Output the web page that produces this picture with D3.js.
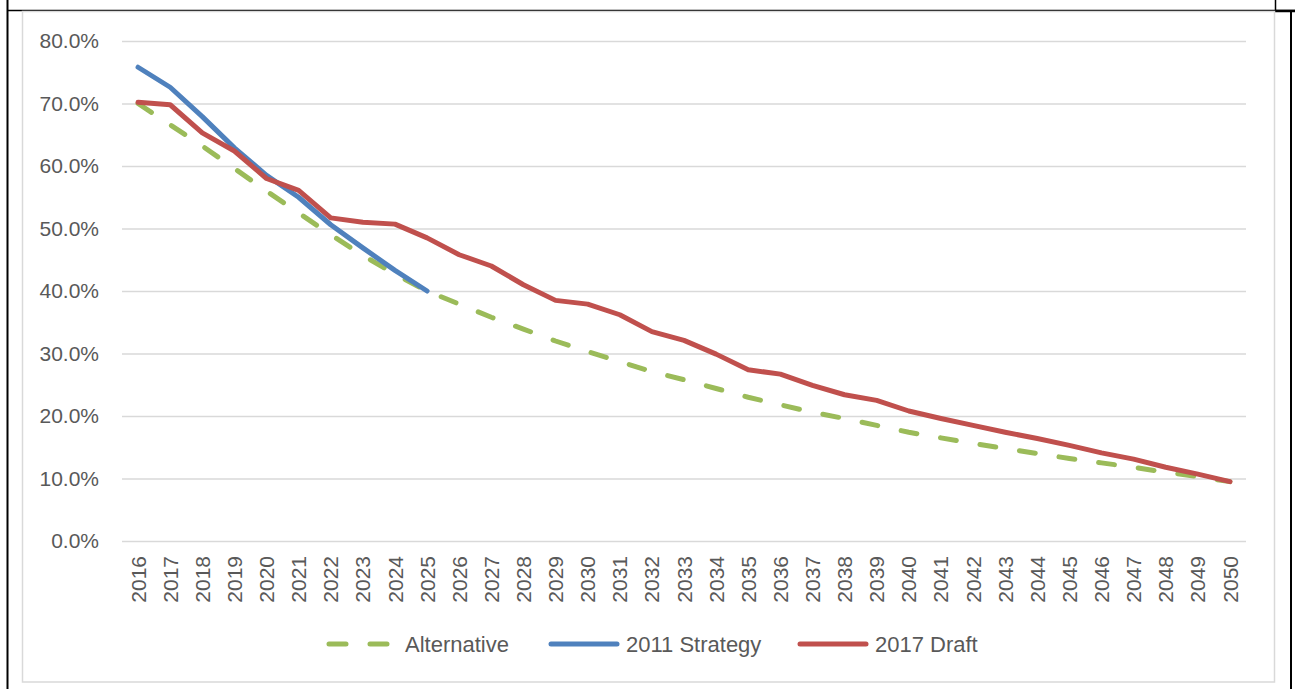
<!DOCTYPE html>
<html>
<head>
<meta charset="utf-8">
<script src="https://cdn.jsdelivr.net/npm/d3@7"></script>
<style>
  body { margin: 0; background: #fff; }
  svg { display: block; font-family: "Liberation Sans", Arial, sans-serif; }
</style>
</head>
<body>
<div id="main-chart"></div>
<script>
// Data
var years = [2016, 2017, 2018, 2019, 2020, 2021, 2022, 2023, 2024, 2025,
             2026, 2027, 2028, 2029, 2030, 2031, 2032, 2033, 2034, 2035,
             2036, 2037, 2038, 2039, 2040, 2041, 2042, 2043, 2044, 2045,
             2046, 2047, 2048, 2049, 2050];
var alternative = [70.0, 66.6, 63.2, 59.6, 56.0, 52.5, 49.0, 45.7, 42.7, 40.0,
                   37.9, 35.8, 33.9, 32.0, 30.3, 28.7, 27.1, 25.8, 24.4, 23.0,
                   21.8, 20.6, 19.6, 18.5, 17.4, 16.5, 15.6, 14.8, 14.0, 13.2,
                   12.5, 11.8, 11.0, 10.3, 9.5];
var strategy2011 = [75.8, 72.6, 67.9, 62.9, 58.5, 55.0, 50.6, 46.9, 43.3, 40.0];
var draft2017 = [70.2, 69.8, 65.3, 62.4, 58.0, 56.1, 51.7, 51.0, 50.7, 48.5,
                 45.8, 44.0, 41.0, 38.5, 37.9, 36.2, 33.5, 32.1, 29.9, 27.4,
                 26.7, 24.9, 23.4, 22.5, 20.8, 19.6, 18.5, 17.4, 16.4, 15.3,
                 14.1, 13.1, 11.8, 10.7, 9.5];
var seriesNames = ['Alternative', '2011 Strategy', '2017 Draft'];
var yTicks = [0, 10, 20, 30, 40, 50, 60, 70, 80];

var colors = {'Alternative': '#9bbb59', '2011 Strategy': '#4f81bd', '2017 Draft': '#c0504d'};

var width = 1295, height = 689;
var margin = {top: 41, bottom: 148, left: 122, right: 50};

var svg = d3.select('#main-chart').append('svg')
    .attr('width', width)
    .attr('height', height);

// table cell frame around the chart
svg.append('line').attr('x1', 7.5).attr('x2', 7.5).attr('y1', 0).attr('y2', height)
    .attr('stroke', '#000').attr('stroke-width', 2);
svg.append('line').attr('x1', 7.5).attr('x2', width).attr('y1', 10.5).attr('y2', 10.5)
    .attr('stroke', '#000').attr('stroke-width', 1.5);
svg.append('line').attr('x1', 1275).attr('x2', width).attr('y1', 11).attr('y2', 11)
    .attr('stroke', '#000').attr('stroke-width', 2.5);
svg.append('line').attr('x1', 1275.5).attr('x2', 1275.5).attr('y1', 0).attr('y2', 11)
    .attr('stroke', '#000').attr('stroke-width', 1.5);
svg.append('line').attr('x1', 1291).attr('x2', 1291).attr('y1', 11).attr('y2', height)
    .attr('stroke', '#000').attr('stroke-width', 2);

// chart area border
svg.append('rect')
    .attr('x', 22.5).attr('y', 11.5)
    .attr('width', 1252).attr('height', 670.5)
    .attr('fill', 'none').attr('stroke', '#d9d9d9').attr('stroke-width', 1.5);

var plotRight = width - margin.right;
var plotBottom = height - margin.bottom;

var xScale = d3.scaleBand().domain(years).range([margin.left, plotRight + 1]);
var yScale = d3.scaleLinear().domain([0, 80]).range([plotBottom, margin.top]);
var xc = function(yr) { return xScale(yr) + xScale.bandwidth() / 2; };

// gridlines + y labels
var yAxis = d3.axisLeft(yScale)
    .tickValues(yTicks)
    .tickSize(-(plotRight + 1 - margin.left))
    .tickPadding(23)
    .tickFormat(function(d) { return d3.format('.1f')(d) + '%'; });

var gY = svg.append('g')
    .attr('transform', `translate(${margin.left},0)`)
    .call(yAxis);
gY.select('.domain').remove();
gY.selectAll('.tick line').attr('stroke', '#d9d9d9').attr('stroke-width', 1.5);
gY.selectAll('.tick text')
    .attr('fill', '#595959')
    .style('font-size', '21px');

// x labels
var xAxis = d3.axisBottom(xScale).tickSize(0).tickPadding(0);
var gX = svg.append('g')
    .attr('transform', `translate(0,${plotBottom})`)
    .call(xAxis);
gX.select('.domain').remove();
gX.selectAll('.tick text')
    .attr('fill', '#595959')
    .style('font-size', '21px')
    .attr('text-anchor', 'end')
    .attr('transform', 'rotate(-90)')
    .attr('x', -15)
    .attr('y', 0)
    .attr('dy', '0.36em');

// lines
var series = [
    {name: seriesNames[0], values: alternative},
    {name: seriesNames[1], values: strategy2011},
    {name: seriesNames[2], values: draft2017}
];

var lineGen = d3.line()
    .x(function(d, i) { return xc(years[i]); })
    .y(function(d) { return yScale(d); });

svg.selectAll('path.series').data(series).enter().append('path')
    .attr('class', 'series')
    .attr('d', function(d) { return lineGen(d.values); })
    .attr('fill', 'none')
    .attr('stroke', function(d) { return colors[d.name]; })
    .attr('stroke-width', 5)
    .attr('stroke-linejoin', 'round')
    .attr('stroke-linecap', 'round')
    .attr('stroke-dasharray', function(d) { return d.name === 'Alternative' ? '16,24' : null; });

// legend
var legendY = 644;
var legendX = [327, 549, 798];
var legend = svg.selectAll('g.legend').data(series).enter().append('g')
    .attr('class', 'legend')
    .attr('transform', function(d, i) { return `translate(${legendX[i]},${legendY})`; });

legend.append('line')
    .attr('x1', 2).attr('x2', 68).attr('y1', 0).attr('y2', 0)
    .attr('stroke', function(d) { return colors[d.name]; })
    .attr('stroke-width', 5)
    .attr('stroke-linecap', 'round')
    .attr('stroke-dasharray', function(d) { return d.name === 'Alternative' ? '17,24' : null; });

legend.append('text')
    .attr('x', function(d, i) { return i === 0 ? 78 : 77; })
    .attr('y', 0)
    .attr('dy', '0.36em')
    .attr('fill', '#595959')
    .style('font-size', '22px')
    .text(function(d) { return d.name; });
</script>
</body>
</html>
